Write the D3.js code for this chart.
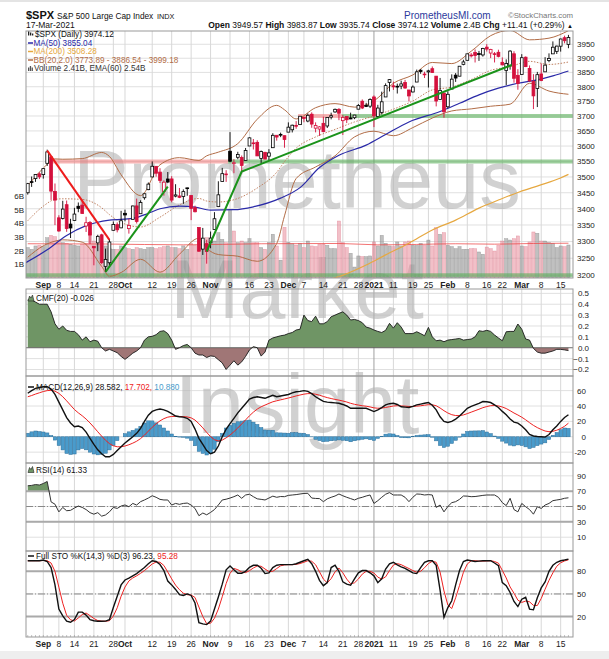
<!DOCTYPE html>
<html>
<head>
<meta charset="utf-8">
<script src="https://cdn.jsdelivr.net/npm/d3@7"></script>
<style>
body { margin: 0; background: #fff; }
text { font-family: "Liberation Sans", Arial, sans-serif; white-space: pre; }
</style>
</head>
<body>
<script>
// trading days shown, Aug 26 2020 -> Mar 17 2021
const aug = [26, 27, 28, 31];
const sep = [1, 2, 3, 4, 8, 9, 10, 11, 14, 15, 16, 17, 18, 21, 22, 23, 24, 25, 28, 29, 30];
const oct = [1, 2, 5, 6, 7, 8, 9, 12, 13, 14, 15, 16, 19, 20, 21, 22, 23, 26, 27, 28, 29, 30];
const nov = [2, 3, 4, 5, 6, 9, 10, 11, 12, 13, 16, 17, 18, 19, 20, 23, 24, 25, 27, 30];
const dec = [1, 2, 3, 4, 7, 8, 9, 10, 11, 14, 15, 16, 17, 18, 21, 22, 23, 24, 28, 29, 30, 31];
const jan = [4, 5, 6, 7, 8, 11, 12, 13, 14, 15, 19, 20, 21, 22, 25, 26, 27, 28, 29];
const feb = [1, 2, 3, 4, 5, 8, 9, 10, 11, 12, 16, 17, 18, 19, 22, 23, 24, 25, 26];
const mar = [1, 2, 3, 4, 5, 8, 9, 10, 11, 12, 15, 16, 17];

const tickIdx = [4, 8, 12, 17, 22, 25, 32, 37, 42, 47, 52, 57, 62, 67, 71, 76, 81, 85, 89, 94, 99, 103, 108, 113, 118, 122, 127, 132, 137];
const tickText = ['Sep', '8', '14', '21', '28', 'Oct', '12', '19', '26', 'Nov', '9', '16', '23', 'Dec', '7', '14', '21', '28', '2021', '11', '19', '25', 'Feb', '8', '16', '22', 'Mar', '8', '15'];

const open = [3449.97,3485.14,3494.69,3509.73,3507.44,3543.76,3564.74,3453.60,3371.88,3369.82,
3412.56,3352.70,3363.56,3407.73,3411.23,3346.86,3357.38,3285.57,3295.75,3320.11,
3226.14,3236.66,3333.90,3350.92,3341.21,3385.87,3338.94,3367.27,3408.74,3384.56,
3434.28,3459.67,3500.02,3534.01,3515.47,3453.72,3493.50,3493.66,3439.38,3439.91,
3438.50,3464.90,3441.42,3403.15,3342.48,3277.17,3293.59,3296.20,3336.25,3406.46,
3485.74,3508.34,3583.04,3543.26,3563.22,3562.67,3552.57,3600.16,3610.31,3612.09,
3559.41,3579.31,3566.82,3594.52,3635.50,3638.55,3634.18,3645.87,3653.78,3668.28,
3670.94,3694.73,3683.05,3705.98,3659.13,3656.08,3675.27,3666.41,3696.25,3713.65,
3722.39,3684.28,3698.08,3693.42,3694.03,3723.03,3750.01,3736.19,3733.27,3764.61,
3698.02,3712.20,3764.71,3815.05,3803.14,3801.62,3802.23,3814.98,3788.73,3781.88,
3816.22,3857.46,3844.24,3851.68,3862.96,3836.83,3755.75,3778.05,3731.17,3791.84,
3840.27,3836.66,3878.30,3892.59,3910.49,3920.78,3916.40,3911.65,3939.61,3918.50,
3915.86,3921.16,3885.55,3857.07,3873.71,3915.80,3839.66,3842.51,3903.64,3863.99,
3818.53,3793.58,3844.39,3851.93,3891.99,3915.54,3924.52,3942.96,3973.59,3949.57];

const high = [3481.07,3501.38,3509.23,3514.77,3528.03,3588.11,3564.85,3479.15,3379.97,3424.77,
3425.55,3368.95,3402.93,3419.48,3428.92,3375.17,3362.27,3285.57,3320.31,3323.35,
3278.70,3306.88,3360.74,3357.92,3393.56,3397.18,3369.10,3409.57,3431.56,3426.26,
3447.28,3482.34,3549.85,3534.01,3527.94,3489.08,3515.76,3502.42,3476.93,3464.86,
3460.53,3466.46,3441.42,3409.51,3342.48,3341.05,3304.93,3330.14,3389.49,3486.25,
3529.05,3521.58,3645.99,3557.22,3581.16,3569.02,3593.66,3628.51,3623.11,3619.09,
3585.22,3581.23,3589.81,3642.31,3635.50,3644.31,3634.18,3678.45,3670.96,3682.73,
3699.20,3697.41,3708.45,3712.39,3678.49,3665.91,3697.61,3695.29,3711.27,3725.12,
3726.70,3702.90,3698.26,3711.24,3703.82,3740.51,3756.12,3744.63,3760.20,3769.99,
3737.83,3783.04,3811.55,3826.69,3817.86,3810.78,3820.96,3823.60,3788.73,3804.53,
3859.75,3861.45,3852.31,3859.23,3870.90,3836.83,3830.50,3778.05,3784.32,3843.09,
3847.51,3872.42,3894.56,3915.77,3918.35,3931.50,3925.99,3937.23,3950.43,3933.61,
3921.98,3930.41,3902.92,3895.98,3928.65,3925.02,3861.08,3914.50,3906.41,3874.47,
3843.67,3851.69,3881.06,3903.76,3917.35,3960.27,3944.99,3970.08,3981.04,3983.87];

const low = [3444.15,3468.35,3484.32,3493.25,3494.60,3535.23,3427.41,3349.63,3329.27,3366.84,
3329.25,3310.47,3363.56,3389.25,3384.45,3328.82,3292.40,3229.10,3270.95,3232.57,
3209.45,3228.44,3332.91,3327.54,3340.47,3361.39,3323.69,3367.27,3354.54,3384.56,
3428.15,3458.07,3499.61,3500.86,3480.55,3440.89,3480.45,3419.93,3435.65,3433.06,
3415.34,3440.45,3364.86,3388.71,3268.89,3259.82,3233.94,3279.74,3336.25,3405.17,
3485.74,3484.34,3547.48,3511.91,3557.00,3518.58,3552.57,3600.16,3588.68,3567.33,
3543.84,3556.85,3552.77,3594.52,3617.76,3629.33,3594.39,3645.87,3644.84,3657.17,
3670.94,3678.88,3678.83,3660.54,3645.18,3633.40,3645.84,3659.62,3688.57,3710.87,
3685.84,3636.48,3676.16,3689.28,3689.32,3723.03,3723.31,3730.21,3726.88,3662.71,
3695.07,3705.34,3764.71,3783.60,3789.02,3776.51,3791.50,3792.86,3749.62,3780.37,
3816.22,3845.05,3830.41,3797.16,3847.78,3732.48,3755.75,3694.12,3725.62,3791.84,
3816.68,3836.66,3874.93,3892.59,3902.64,3884.94,3890.39,3905.78,3923.85,3900.43,
3885.03,3903.07,3874.71,3805.59,3859.60,3814.04,3789.54,3842.51,3868.57,3818.86,
3723.34,3730.19,3819.25,3851.93,3885.73,3915.54,3915.21,3923.54,3953.44,3935.74];

const close = [3478.73,3484.55,3508.01,3500.31,3526.65,3580.84,3455.06,3426.96,3331.84,3398.96,
3339.19,3340.97,3383.54,3401.20,3385.49,3357.01,3319.47,3281.06,3315.57,3236.92,
3246.59,3298.46,3351.60,3335.47,3363.00,3380.80,3348.42,3408.60,3360.97,3419.44,
3446.83,3477.14,3534.22,3511.93,3488.67,3483.34,3483.81,3426.92,3443.12,3435.56,
3453.49,3465.39,3400.97,3390.68,3271.03,3310.11,3269.96,3310.24,3369.16,3443.44,
3510.45,3509.44,3550.50,3545.53,3572.66,3537.01,3585.15,3626.91,3609.53,3567.79,
3581.87,3557.54,3577.59,3635.41,3629.65,3638.35,3621.63,3662.45,3669.01,3666.72,
3699.12,3691.96,3702.25,3672.82,3668.10,3663.46,3647.49,3694.62,3701.17,3722.48,
3709.41,3694.92,3687.26,3690.01,3703.06,3735.36,3727.04,3732.04,3756.07,3700.65,
3726.86,3748.14,3803.79,3824.68,3799.61,3801.19,3809.84,3795.54,3768.25,3798.91,
3851.85,3853.07,3841.47,3855.36,3849.62,3750.77,3787.38,3714.24,3773.86,3826.31,
3830.17,3871.74,3886.83,3915.59,3911.23,3909.88,3916.38,3934.83,3932.59,3931.33,
3913.97,3906.71,3876.50,3881.37,3925.43,3829.34,3811.15,3901.82,3870.29,3819.72,
3768.47,3841.94,3821.35,3875.44,3898.81,3939.34,3943.34,3968.94,3962.71,3974.12];

// volume, billions
const volume = [2.22,2.09,2.34,2.38,2.29,2.94,3.11,3.02,2.70,2.58,
2.53,2.46,2.38,2.34,2.46,2.53,3.36,2.70,2.46,2.58,
2.34,2.14,2.09,2.09,2.34,2.22,2.14,2.09,2.22,2.14,
2.09,2.22,2.22,2.14,2.22,2.29,2.34,2.22,2.22,2.14,
2.34,2.09,2.53,2.38,2.87,2.63,2.94,2.58,2.70,3.31,
2.82,2.58,5.00,3.43,2.58,2.70,2.58,2.87,2.58,2.58,
2.22,2.09,2.58,3.19,2.34,1.30,3.70,2.60,2.50,2.40,
2.53,2.22,2.70,2.34,2.29,2.46,2.46,2.38,2.14,2.14,
4.16,2.58,2.22,1.80,0.80,1.61,1.56,1.56,1.61,2.63,
2.34,3.11,2.53,2.34,2.29,2.63,2.34,2.63,2.70,2.38,
2.38,2.53,2.38,2.77,2.34,3.67,3.19,3.31,2.38,2.29,
2.14,2.29,2.09,2.09,2.14,2.14,1.90,1.73,2.26,2.14,
1.97,2.38,2.70,2.87,2.77,2.87,3.07,2.34,2.29,2.63,
3.36,3.26,2.70,2.70,2.58,2.53,2.22,2.34,2.29,2.41];

const volEmaIdx = [0, 20, 40, 60, 80, 90, 100, 110, 120, 130, 139];
const volEmaVal = [2.50, 2.48, 2.42, 2.50, 2.52, 2.42, 2.45, 2.50, 2.47, 2.52, 2.54];

const ma50Idx = [-0.5, 5, 10, 15, 21, 27, 31, 34, 39, 43, 47, 53, 58, 65, 70, 75, 80, 87, 92, 98, 106, 111, 116, 121, 126, 131, 135, 139];
const ma50Val = [3237, 3275, 3318, 3348, 3365, 3370, 3386, 3400, 3408, 3405, 3396, 3397, 3406, 3433, 3466, 3530, 3570, 3603, 3638, 3680, 3715, 3743, 3772, 3795, 3812, 3824, 3838, 3855.04];

const ma200Idx = [70, 75, 81, 87, 92, 98, 104, 110, 116, 121, 126.5, 131.7, 136.8, 139];
const ma200Val = [3150, 3178, 3200, 3230, 3260, 3295, 3335, 3365, 3402, 3427, 3453, 3474, 3496, 3508.28];

const bbIdx = [0, 4, 7, 9, 14, 19, 21, 24, 29, 34, 39, 44, 46, 49, 54, 59, 64, 66, 69, 74, 79, 84, 89, 94, 99, 104, 109, 114, 119, 124, 129, 134, 139];
const bbUpper = [3472, 3528, 3558, 3557, 3559, 3579, 3566, 3507, 3441, 3539, 3562, 3553, 3568, 3580, 3608, 3689, 3736, 3721, 3690, 3728, 3742, 3730, 3751, 3812, 3841, 3885, 3881, 3925, 3981, 4000, 3966, 3972, 3999.18];
const bbMid = [3363, 3408, 3429, 3431, 3429, 3403, 3382, 3358, 3344, 3374, 3412, 3432, 3424, 3421, 3432, 3465, 3515, 3549, 3593, 3630, 3655, 3680, 3700, 3723, 3751, 3789, 3799, 3825, 3857, 3870, 3889, 3878, 3886.54];
const bbLower = [3253, 3287, 3301, 3305, 3298, 3226, 3197, 3208, 3247, 3209, 3262, 3310, 3280, 3261, 3256, 3241, 3294, 3378, 3495, 3532, 3568, 3630, 3649, 3634, 3661, 3693, 3717, 3724, 3733, 3740, 3812, 3785, 3773.89];

const priceTicks = [3200, 3250, 3300, 3350, 3400, 3450, 3500, 3550, 3600, 3650, 3700, 3750, 3800, 3850, 3900, 3950];
const volTicks = [1, 2, 3, 4, 5, 6];

// annotation levels and trend lines (index, price)
const levelPrice = [3550, 3700, 3550, 3700, 3200];
const levelFrom = [5, 69.5, 51.5, 80.8, -1];
const levelTo = [51.5, 80.8, 141, 141, 141];
const levelKind = ['pink', 'pink', 'green', 'green', 'green'];
const redTrend = [[5, 3585], [21, 3305]];
const greenTrend1 = [[20, 3210], [36, 3469]];
const greenTrend2 = [[46, 3270], [55, 3517], [124.4, 3876]];

const cmf = [.44,.44,.42,.40,.40,.40,.33,.22,.17,.20,
.16,.15,.15,.12,.07,.10,.055,.07,.06,0,
-.03,-.015,-.03,-.046,-.08,-.107,-.08,-.05,-.03,0,
.07,.10,.105,.12,.15,.156,.13,.07,-.015,0,
.02,.03,0,-.05,-.067,-.067,-.09,-.075,-.08,-.11,
-.14,-.2,-.16,-.12,-.16,-.13,-.08,-.02,.01,0,
-.077,-.04,.07,.09,.10,.11,.116,.13,.14,.163,
.17,.30,.25,.24,.29,.22,.22,.24,.285,.30,
.316,.33,.30,.255,.26,.25,.23,.19,.18,.163,
.15,.14,.16,.224,.18,.23,.19,.13,.13,.13,
.147,.13,.11,.187,.10,.064,.07,.055,.07,.075,
.08,.085,.07,.075,.08,.10,.156,.15,.16,.15,
.117,.09,.064,.147,.15,.15,.218,.17,.08,.07,
-.006,-.04,-.05,-.05,-.04,-.03,-.015,-.015,-.02,-.026];
const cmfTicks = [-0.2, -0.1, 0, 0.1, 0.2, 0.3, 0.4, 0.5];

const macd = [56.6,60,63,64,65,65,62,55,45,35,
25,18,13,14,12,6,-2,-10,-17,-22,
-26,-26,-23,-18,-13,-8,-4,0,4.5,11,
20,28,33,35,36,35,33,30,27,26,
25.5,24,20,10,-2,-10,-18,-22,-20,-12,
0,10,17,24,31,37,43,49,51,52,
51,50,52,54,52,53,54,55,57,58.5,
59,60,59,56,52,49,46,45,44.5,44,
43.5,42,40,37,37,37,37,37,35,32.8,
35,38,41.5,43,43.6,42,39,38.5,38,39.5,
41.5,42.5,43.5,44.5,41,35,26,20,18.6,20,
23,27,32,37,39.5,41.5,43.5,45.8,45.5,44.5,
41.5,38,33,28.5,23,19,17.7,14,9,3,
1,0.4,0,-0.4,3,9,14,20,25,28.582];
const signal = [52,53.6,55.5,57.2,58.8,60,60.4,59.3,56.4,52.1,
46.7,41,35.4,31.1,27.3,23,18,12.4,6.5,0.8,
-4.6,-8.9,-11.7,-13,-13,-12,-10.4,-8.3,-5.8,-2.4,
2.1,7.3,12.4,16.9,20.7,23.6,25.5,26.4,26.5,26.4,
26.2,25.8,24.6,21.7,17,11.6,5.7,0.2,-3.8,-5.4,
-4.3,-1.4,2.2,6.6,11.5,16.6,21.9,27.3,32,36,
39,41.2,43.4,45.5,46.8,48,49.2,50.4,51.7,53.1,
54.3,55.4,56.1,56.1,55.3,54,52.4,50.9,49.7,48.6,
47.6,46.5,45.2,43.5,42.2,41.2,40.3,39.7,38.8,37.6,
37.1,37.3,38.1,39.1,40,40.4,40.1,39.8,39.4,39.4,
39.8,40.3,41,41.7,41.6,40.3,37.4,33.9,30.9,28.7,
27.6,27.5,28.4,30.1,32,33.9,35.8,37.8,39.3,40.4,
40.6,40.1,38.7,36.7,33.9,30.9,28.3,25.4,22.1,18.3,
14.8,11.9,9.5,7.5,6.6,7.1,8.5,10.8,13.6,17.702];
const hist = [4.6,6.4,7.5,6.8,6.2,5,1.6,-4.3,-11.4,-17.1,
-21.7,-23,-22.4,-17.1,-15.3,-17,-20,-22.4,-23.5,-22.8,
-21.4,-17.1,-11.3,-5,0,4,6.4,8.3,10.3,13.4,
17.9,20.7,20.6,18.1,15.3,11.4,7.5,3.6,0.5,-0.4,
-0.7,-1.8,-4.6,-11.7,-19,-21.6,-23.7,-22.2,-16.2,-6.6,
4.3,11.4,14.8,17.4,19.5,20.4,21.1,21.7,19,16,
12,8.8,8.6,8.5,5.2,5,4.8,4.6,5.3,5.4,
4.7,4.6,2.9,-0.1,-3.3,-5,-6.4,-5.9,-5.2,-4.6,
-4.1,-4.5,-5.2,-6.5,-5.2,-4.2,-3.3,-2.7,-3.8,-4.8,
-2.1,0.7,3.4,3.9,3.6,1.6,-1.1,-1.3,-1.4,0.1,
1.7,2.2,2.5,2.8,-0.6,-5.3,-11.4,-13.9,-12.3,-8.7,
-4.6,-0.5,3.6,6.9,7.5,7.6,7.7,8,6.2,4.1,
0.9,-2.1,-5.7,-8.2,-10.9,-11.9,-10.6,-11.4,-13.1,-15.3,
-13.8,-11.5,-9.5,-7.9,-3.6,1.9,5.5,9.2,11.4,10.88];
const macdTicks = [-20, 0, 20, 40, 60];

const rsi = [77,77.5,78.6,78,80,82.6,56,53,43,48.8,
44.5,45,48,50.6,48.8,46,42,40,42,37.4,
39,43,48.8,47.5,50.6,52,49.7,54,51.9,56.3,
58.5,61,64,62,59.3,58.5,58.5,51.9,54,52.8,
54,54.5,51.9,47.5,38,41.5,39.2,42.3,46,52,
58.5,59.5,61,62.8,65,60.7,65,66,62.8,60,
59.3,58.5,61,63.5,62,63,62.8,64.5,65,65.5,
66.3,67,67.2,61,60.5,60.3,56.3,60,62,63.7,
66.3,64,62,60.3,58.5,60.7,62,63.7,65,54,
57.6,62,66,68.1,65,65,65,62,56.3,62,
66.3,66,65,65.5,65,48.8,51.9,43,50,55,
56.3,59.3,63.7,63.5,62.8,63,63.7,64.5,65,65,
65,62,55,51.2,60.7,46,43,54,49.7,46,
40,49.7,47.5,51.9,54,57.6,58.5,59.3,60.7,61.33];
const rsiTicks = [10, 30, 50, 70, 90];

const stoK = [94,94,94,94,95,93,85,62,30,21,
14,12.5,16,26,26,22,16,14.5,13.8,13.8,
14,16,32,47,62,68.5,71,74,77,81,
85,90,94,93,89,81,67,62,56,49,
48,50,48,38,12,10.3,9.4,14,30,46,
63,82,87,82,77.5,77.5,80,85.3,88,88,
84,77,78,85,88,88.8,88.8,88.8,88.8,90,
92,94,96,90,80,68,61,65,85,88,
80,66,63,61.5,70,78,81,81,78,74,
65,70,83,90,92,88.5,86,84,81,78,
77,85,92,94,94,88,55,19,32,41,
62,81,93,95,94,93,93.5,94,94,94,
91,87.5,65,61,52,40,33.3,43,45.6,30,
29,45,58,66,80,88,92,94,95,96.23];
const stoD = [94,94,94,94,94.3,94,91,80,59,37.7,
21.7,15.8,14.2,18.2,22.7,24.7,21.3,17.5,14.8,14,
13.9,14.6,20.7,31.7,47,59.2,67.2,71.2,74,77.3,
81,85.3,89.7,92.3,92,87.7,79,70,61.7,55.7,
51,49,48.7,45.3,32.7,20.1,10.6,11.2,17.8,30,
46.3,63.7,77.3,83.7,82.2,79,78.3,80.9,84.4,87.1,
86.7,83,79.7,80,83.7,87.3,88.5,88.8,88.8,89.2,
90.3,92,94,93.3,88.7,79.3,69.7,64.7,70.3,79.3,
84.3,78,69.7,63.5,64.8,69.8,76.3,80,80,77.7,
72.3,69.7,72.7,81,88.3,90.2,88.8,86.2,83.7,81,
78.7,80,84.7,90.3,93.3,92,79,54,35.3,30.7,
45,61.3,78.7,89.7,94,94,93.5,93.5,93.8,94,
93,90.8,81.2,71.2,59.3,51,41.8,38.8,40.6,39.6,
34.9,34.7,44,56.3,68,78,86.7,91.3,93.7,95.28];
const stoTicks = [20, 50, 80];

// ---------- layout ----------
const width = 609, height = 659;
const L = 26, R = 573;
const P = {
  main: [31, 278], cmf: [289, 376], macd: [376, 463], rsi: [463, 551], sto: [551, 637]
};
const idx = d3.range(close.length);

const svg = d3.select('body').append('svg')
  .attr('width', width).attr('height', height);
const defs = svg.append('defs');
const gBack = svg.append('g');
const gMark = svg.append('g');
const gData = svg.append('g');
const gFront = svg.append('g');

const x = d3.scaleLinear().domain([-0.45, 140.17]).range([L, R]);
const yMain = d3.scaleLog().domain([3192, 3998]).range([P.main[1], P.main[0]]);
const yVol = d3.scaleLinear().domain([0, 18.03]).range([P.main[1], P.main[0]]);
const yCmf = d3.scaleLinear().domain([-0.26, 0.54]).range([P.cmf[1], P.cmf[0]]);
const yMacd = d3.scaleLinear().domain([-34.1, 79]).range([P.macd[1], P.macd[0]]);
const yRsi = d3.scaleLinear().domain([-8, 106.7]).range([P.rsi[1], P.rsi[0]]);
const ySto = d3.scaleLinear().domain([-7, 106.9]).range([P.sto[1], P.sto[0]]);

function clip(id, top, bottom) {
  defs.append('clipPath').attr('id', id).append('rect')
    .attr('x', L).attr('y', top).attr('width', R - L).attr('height', bottom - top);
  return 'url(#' + id + ')';
}

// page bands
gBack.append('rect').attr('x', 0).attr('y', 0).attr('width', width).attr('height', 2).attr('fill', '#e4e4e4');
gBack.append('rect').attr('x', 0).attr('y', 651).attr('width', width).attr('height', 8).attr('fill', '#eeeeee');

function grid([top, bottom], y, ticks) {
  gBack.append('rect').attr('x', L).attr('y', top).attr('width', R - L).attr('height', bottom - top).attr('fill', '#fff');
  gBack.append('g').selectAll('line').data(ticks).join('line')
    .attr('x1', L).attr('x2', R)
    .attr('y1', d => y(d)).attr('y2', d => y(d))
    .attr('stroke', '#e0e0e0').attr('stroke-width', 1);
  gBack.append('g').selectAll('line').data(tickIdx).join('line')
    .attr('x1', d => x(d)).attr('x2', d => x(d))
    .attr('y1', top).attr('y2', bottom)
    .attr('stroke', (d, i) => tickText[i] === '2021' ? '#a0a0a0' : '#d8d8d8')
    .attr('stroke-width', 1);
}
grid(P.main, yMain, priceTicks);
grid(P.cmf, yCmf, cmfTicks);
grid(P.macd, yMacd, macdTicks);
grid(P.rsi, yRsi, rsiTicks);
grid(P.sto, ySto, stoTicks);

// watermark
const mark = gMark.append('g').attr('fill', '#b4b4b4').attr('opacity', 0.6)
  .attr('text-anchor', 'middle').style('font-size', '83px');
mark.append('text').attr('x', 297).attr('y', 208).text('Prometheus');
mark.append('text').attr('x', 297).attr('y', 318).text('Market');
mark.append('text').attr('x', 297).attr('y', 433).text('Insight');

// ---------- main panel ----------
const gMain = gData.append('g').attr('clip-path', clip('c-main', P.main[0], P.main[1]));
const isUp = i => i === 0 ? true : close[i] >= close[i - 1];

gMain.append('g').selectAll('rect').data(idx).join('rect')
  .attr('x', i => x(i) - 1.6).attr('width', 3.2)
  .attr('y', i => yVol(volume[i])).attr('height', i => yVol(0) - yVol(volume[i]))
  .attr('fill', i => isUp(i) ? 'rgba(150,150,150,0.6)' : 'rgba(232,140,155,0.55)')
  .attr('stroke', i => isUp(i) ? 'rgba(120,120,120,0.6)' : 'rgba(220,110,130,0.6)')
  .attr('stroke-width', 0.5);

gMain.append('path')
  .attr('d', d3.line().x((d, k) => x(volEmaIdx[k])).y(d => yVol(d)).curve(d3.curveMonotoneX)(volEmaVal))
  .attr('fill', 'none').attr('stroke', '#ee4444').attr('stroke-width', 1).attr('opacity', 0.75);

gMain.append('g').selectAll('line').data(levelPrice).join('line')
  .attr('x1', (d, k) => x(levelFrom[k])).attr('x2', (d, k) => x(levelTo[k]))
  .attr('y1', d => yMain(d)).attr('y2', d => yMain(d))
  .attr('stroke', (d, k) => levelKind[k] === 'pink' ? 'rgba(240,120,120,0.55)' : 'rgba(90,175,90,0.6)')
  .attr('stroke-width', 4);

function sparse(xs, ys, y) {
  return d3.line().x((d, k) => x(xs[k])).y(d => y(d)).curve(d3.curveMonotoneX)(ys);
}
gMain.append('path').attr('d', sparse(bbIdx, bbUpper, yMain)).attr('fill', 'none').attr('stroke', '#b26d47').attr('stroke-width', 1);
gMain.append('path').attr('d', sparse(bbIdx, bbLower, yMain)).attr('fill', 'none').attr('stroke', '#b26d47').attr('stroke-width', 1);
gMain.append('path').attr('d', sparse(bbIdx, bbMid, yMain)).attr('fill', 'none').attr('stroke', '#c08060').attr('stroke-width', 1).attr('stroke-dasharray', '1.5,1.5');
gMain.append('path').attr('d', sparse(ma200Idx, ma200Val, yMain)).attr('fill', 'none').attr('stroke', '#e6a840').attr('stroke-width', 1.2);
gMain.append('path').attr('d', sparse(ma50Idx, ma50Val, yMain)).attr('fill', 'none').attr('stroke', '#2a2aa8').attr('stroke-width', 1.2);

// candles
const candleCol = i => isUp(i) ? '#000' : '#d4103c';
const candles = gMain.append('g').selectAll('g').data(idx).join('g');
candles.append('line')
  .attr('x1', i => x(i)).attr('x2', i => x(i))
  .attr('y1', i => yMain(high[i])).attr('y2', i => yMain(low[i]))
  .attr('stroke', candleCol).attr('stroke-width', 0.9);
candles.append('rect')
  .attr('x', i => x(i) - 1.4).attr('width', 2.8)
  .attr('y', i => yMain(Math.max(open[i], close[i])))
  .attr('height', i => Math.max(0.8, yMain(Math.min(open[i], close[i])) - yMain(Math.max(open[i], close[i]))))
  .attr('fill', i => close[i] > open[i] ? '#fff' : candleCol(i))
  .attr('stroke', candleCol).attr('stroke-width', 0.8);

const trend = d3.line().x(d => x(d[0])).y(d => yMain(d[1]));
gMain.append('path').attr('d', trend(redTrend)).attr('fill', 'none').attr('stroke', '#ee1c1c').attr('stroke-width', 2);
gMain.append('path').attr('d', trend(greenTrend1)).attr('fill', 'none').attr('stroke', '#1a931a').attr('stroke-width', 2);
gMain.append('path').attr('d', trend(greenTrend2)).attr('fill', 'none').attr('stroke', '#1a931a').attr('stroke-width', 2);

// ---------- CMF ----------
const gCmf = gData.append('g').attr('clip-path', clip('c-cmf', P.cmf[0], P.cmf[1]));
defs.append('clipPath').attr('id', 'c-cmf-pos').append('rect').attr('x', L).attr('y', P.cmf[0]).attr('width', R - L).attr('height', yCmf(0) - P.cmf[0]);
defs.append('clipPath').attr('id', 'c-cmf-neg').append('rect').attr('x', L).attr('y', yCmf(0)).attr('width', R - L).attr('height', P.cmf[1] - yCmf(0));
const cmfArea = d3.area().x((d, i) => x(i)).y0(yCmf(0)).y1(d => yCmf(d));
gCmf.append('path').attr('d', cmfArea(cmf)).attr('fill', '#6f9565').attr('clip-path', 'url(#c-cmf-pos)');
gCmf.append('path').attr('d', cmfArea(cmf)).attr('fill', '#a07676').attr('clip-path', 'url(#c-cmf-neg)');
gCmf.append('line').attr('x1', L).attr('x2', R).attr('y1', yCmf(0)).attr('y2', yCmf(0)).attr('stroke', '#555').attr('stroke-width', 0.8);
gCmf.append('path').attr('d', d3.line().x((d, i) => x(i)).y(d => yCmf(d))(cmf)).attr('fill', 'none').attr('stroke', '#1a1a1a').attr('stroke-width', 0.9);

// ---------- MACD ----------
const gMacd = gData.append('g').attr('clip-path', clip('c-macd', P.macd[0], P.macd[1]));
gMacd.append('g').selectAll('rect').data(idx).join('rect')
  .attr('x', i => x(i) - 1.7).attr('width', 3.4)
  .attr('y', i => yMacd(Math.max(0, hist[i])))
  .attr('height', i => Math.abs(yMacd(hist[i]) - yMacd(0)))
  .attr('fill', '#4a9bcb').attr('stroke', '#2c6f9a').attr('stroke-width', 0.5);
gMacd.append('path').attr('d', d3.line().x((d, i) => x(i)).y(d => yMacd(d))(signal)).attr('fill', 'none').attr('stroke', '#ee2222').attr('stroke-width', 1);
gMacd.append('path').attr('d', d3.line().x((d, i) => x(i)).y(d => yMacd(d))(macd)).attr('fill', 'none').attr('stroke', '#111').attr('stroke-width', 1.4);

// ---------- RSI ----------
const gRsi = gData.append('g').attr('clip-path', clip('c-rsi', P.rsi[0], P.rsi[1]));
defs.append('clipPath').attr('id', 'c-rsi-ob').append('rect').attr('x', L).attr('y', P.rsi[0]).attr('width', R - L).attr('height', yRsi(70) - P.rsi[0]);
gRsi.append('path').attr('d', d3.area().x((d, i) => x(i)).y0(yRsi(70)).y1(d => yRsi(d))(rsi))
  .attr('fill', '#6f9565').attr('clip-path', 'url(#c-rsi-ob)');
gRsi.append('g').selectAll('line').data([30, 70]).join('line')
  .attr('x1', L).attr('x2', R).attr('y1', d => yRsi(d)).attr('y2', d => yRsi(d))
  .attr('stroke', '#aaa').attr('stroke-width', 2);
gRsi.append('line').attr('x1', L).attr('x2', R).attr('y1', yRsi(50)).attr('y2', yRsi(50))
  .attr('stroke', '#888').attr('stroke-dasharray', '7,2,1,2');
gRsi.append('path').attr('d', d3.line().x((d, i) => x(i)).y(d => yRsi(d))(rsi)).attr('fill', 'none').attr('stroke', '#333').attr('stroke-width', 1);

// ---------- Full STO ----------
const gSto = gData.append('g').attr('clip-path', clip('c-sto', P.sto[0], P.sto[1]));
gSto.append('g').selectAll('line').data([20, 80]).join('line')
  .attr('x1', L).attr('x2', R).attr('y1', d => ySto(d)).attr('y2', d => ySto(d))
  .attr('stroke', '#aaa').attr('stroke-width', 2);
gSto.append('line').attr('x1', L).attr('x2', R).attr('y1', ySto(50)).attr('y2', ySto(50))
  .attr('stroke', '#888').attr('stroke-dasharray', '7,2,1,2');
gSto.append('path').attr('d', d3.line().x((d, i) => x(i)).y(d => ySto(d))(stoD)).attr('fill', 'none').attr('stroke', '#ee2222').attr('stroke-width', 1);
gSto.append('path').attr('d', d3.line().x((d, i) => x(i)).y(d => ySto(d))(stoK)).attr('fill', 'none').attr('stroke', '#111').attr('stroke-width', 1.4);

// ---------- frames, axes, labels ----------
Object.values(P).forEach(([top, bottom]) => {
  gFront.append('rect').attr('x', L).attr('y', top).attr('width', R - L).attr('height', bottom - top)
    .attr('fill', 'none').attr('stroke', '#999').attr('stroke-width', 1);
});
[P.main[1], P.sto[1]].forEach(b => {
  gFront.append('g').selectAll('line').data(idx).join('line')
    .attr('x1', i => x(i)).attr('x2', i => x(i)).attr('y1', b).attr('y2', b - 2)
    .attr('stroke', '#999').attr('stroke-width', 0.6);
});

function xLabels(yText) {
  gFront.append('g').selectAll('text').data(tickIdx).join('text')
    .attr('x', d => x(d)).attr('y', yText).attr('text-anchor', 'middle')
    .style('font-size', '8.5px')
    .style('font-weight', (d, i) => /^[A-Z]|2021/.test(tickText[i]) ? 'bold' : 'normal')
    .attr('fill', '#222')
    .text((d, i) => tickText[i]);
}
xLabels(287.5);
xLabels(646.5);

function rightLabels(y, ticks, fmt, anchor, xp) {
  gFront.append('g').selectAll('text').data(ticks).join('text')
    .attr('x', xp).attr('y', d => y(d) + 3).attr('text-anchor', anchor)
    .style('font-size', '8px').attr('fill', '#222').text(fmt);
}
rightLabels(yMain, priceTicks, d => d, 'start', 577);
rightLabels(yCmf, cmfTicks, d3.format('.1f'), 'end', 589);
rightLabels(yMacd, macdTicks, d => d, 'end', 586);
rightLabels(yRsi, rsiTicks, d => d, 'end', 586);
rightLabels(ySto, stoTicks, d => d, 'end', 586);
gFront.append('g').selectAll('text').data(volTicks).join('text')
  .attr('x', 24).attr('y', d => yVol(d) + 3).attr('text-anchor', 'end')
  .style('font-size', '8px').attr('fill', '#222').text(d => d + 'B');

// header
const head = gFront.append('g').attr('fill', '#111');
head.append('text').attr('x', 26).attr('y', 18.5).style('font-size', '11px').style('font-weight', 'bold').text('$SPX');
head.append('text').attr('x', 57).attr('y', 18.5).style('font-size', '8.3px').text('S&P 500 Large Cap Index');
head.append('text').attr('x', 157).attr('y', 18.5).style('font-size', '7.3px').text('INDX');
head.append('text').attr('x', 404).attr('y', 18.5).style('font-size', '10px').attr('fill', '#2b3a9c').text('PrometheusMI.com');
head.append('text').attr('x', 573).attr('y', 18).attr('text-anchor', 'end').style('font-size', '7.8px').attr('fill', '#777').text('©StockCharts.com');
head.append('text').attr('x', 26).attr('y', 28).style('font-size', '8.5px').text('17-Mar-2021');
const ohlc = head.append('text').attr('x', 573).attr('y', 28).attr('text-anchor', 'end').style('font-size', '8.5px');
[['Open ', 1], ['3949.57 ', 0], ['High ', 1], ['3983.87 ', 0], ['Low ', 1], ['3935.74 ', 0], ['Close ', 1], ['3974.12 ', 0],
 ['Volume ', 1], ['2.4B ', 0], ['Chg ', 1], ['+11.41 (+0.29%) ', 0], ['▲', 0]]
  .forEach(([t, b]) => ohlc.append('tspan').style('font-weight', b ? 'bold' : 'normal').style('font-size', t === '▲' ? '6px' : null).text(t));

// main legend
const leg = gFront.append('g').style('font-size', '8.2px');
leg.append('g').selectAll('rect').data([0, 1, 2]).join('rect')
  .attr('x', d => 28 + d * 2).attr('y', d => 31.5 + d).attr('width', 1.3).attr('height', d => 4 - d)
  .attr('fill', '#222');
leg.append('text').attr('x', 35).attr('y', 37.3).attr('fill', '#111').text('$SPX (Daily) 3974.12');
const legRows = [
  ['MA(50) 3855.04', '#2a2aa8', 45.8],
  ['MA(200) 3508.28', '#e6a840', 54.3],
  ['BB(20,2.0) 3773.89 - 3886.54 - 3999.18', '#b26d47', 62.8]
];
legRows.forEach(([t, c, yy]) => {
  leg.append('line').attr('x1', 28).attr('x2', 33).attr('y1', yy - 2.8).attr('y2', yy - 2.8).attr('stroke', c).attr('stroke-width', 1.5);
  leg.append('text').attr('x', 33.5).attr('y', yy).attr('fill', c).text(t);
});
leg.append('g').selectAll('rect').data([0, 1, 2]).join('rect')
  .attr('x', d => 28 + d * 1.8).attr('y', d => 66 + (d === 1 ? 0 : 1.5)).attr('width', 1.3).attr('height', d => d === 1 ? 5 : 3.5)
  .attr('fill', '#555');
leg.append('text').attr('x', 34).attr('y', 71.3).attr('fill', '#333').text('Volume 2.41B, EMA(60) 2.54B');

// indicator legends
function mountain(y0) {
  gFront.append('path').attr('d', `M28,${y0} l1.5,-5 l1.5,2 l1.5,-3 l1.5,6 z`)
    .attr('fill', '#6f9565').attr('stroke', '#222').attr('stroke-width', 0.6);
}
mountain(301);
gFront.append('text').attr('x', 36).attr('y', 301).style('font-size', '8.2px').attr('fill', '#111').text('CMF(20) -0.026');

gFront.append('line').attr('x1', 28).attr('x2', 34).attr('y1', 387).attr('y2', 387).attr('stroke', '#111').attr('stroke-width', 1.5);
const macdLeg = gFront.append('text').attr('x', 36).attr('y', 390).style('font-size', '8.2px');
macdLeg.append('tspan').attr('fill', '#111').text('MACD(12,26,9) 28.582, ');
macdLeg.append('tspan').attr('fill', '#ee2222').text('17.702, ');
macdLeg.append('tspan').attr('fill', '#4a9bcb').text('10.880');

mountain(472.5);
gFront.append('text').attr('x', 36).attr('y', 472.5).style('font-size', '8.2px').attr('fill', '#111').text('RSI(14) 61.33');

gFront.append('line').attr('x1', 28).attr('x2', 34).attr('y1', 556).attr('y2', 556).attr('stroke', '#111').attr('stroke-width', 1.5);
const stoLeg = gFront.append('text').attr('x', 36).attr('y', 559).style('font-size', '8.2px');
stoLeg.append('tspan').attr('fill', '#111').text('Full STO %K(14,3) %D(3) 96.23, ');
stoLeg.append('tspan').attr('fill', '#ee2222').text('95.28');
</script>
</body>
</html>
